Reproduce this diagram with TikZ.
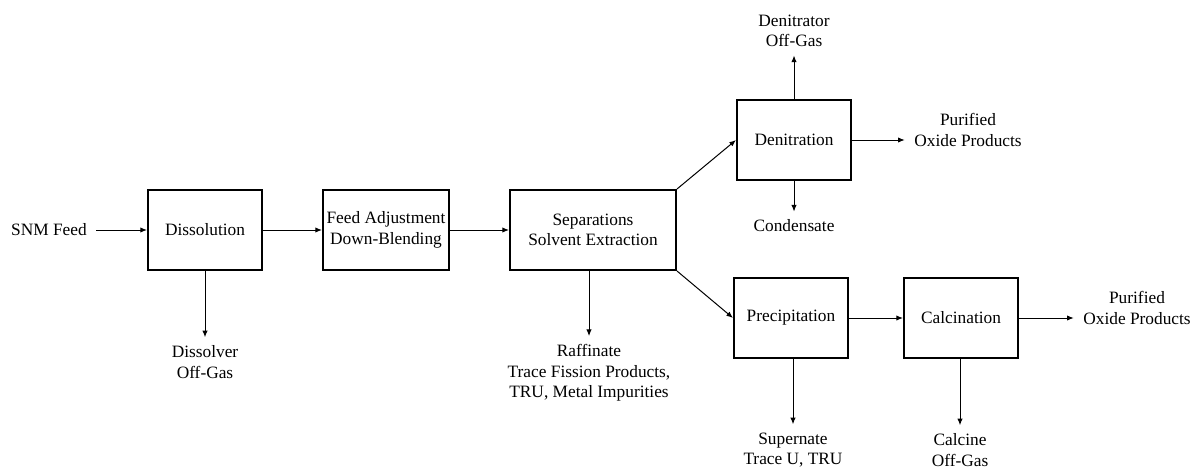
\documentclass[tikz,border=0pt]{standalone}
\usepackage{fontspec}
\setmainfont{Liberation Serif}
\newfontfamily\flowfont{Liberation Serif}
\usetikzlibrary{arrows.meta}

\begin{document}
\begin{tikzpicture}[x=0.75pt,y=-0.75pt,every node/.style={font=\flowfont\fontsize{13}{15.5}\selectfont}]
    \useasboundingbox (0,0) rectangle (1191,468);
    \newcounter{i}
    \tikzstyle{unit}=[draw, line width=1.5pt, minimum width=85.5pt, minimum height=60pt, align=center, inner sep=1pt]
    \tikzstyle{stream}=[align=center, inner xsep=7pt, inner ysep=6pt]

    \stepcounter{i}\node[stream]  (\arabic{i}) at (49,230) {SNM Feed};
    \stepcounter{i}\node[unit]  (\arabic{i}) at (205,230) {Dissolution};
    \stepcounter{i}\node[unit, minimum width=94.5pt]  (\arabic{i}) at (386,230) {Feed Adjustment\\Down-Blending};
    \stepcounter{i}\node[unit, minimum width=124.5pt]  (\arabic{i}) at (593,230) {Separations\\Solvent Extraction};
    \stepcounter{i}\node[unit]  (\arabic{i}) at (794,140) {Denitration};
    \stepcounter{i}\node[unit]  (\arabic{i}) at (791,318) {Precipitation};
    \stepcounter{i}\node[unit]  (\arabic{i}) at (961,318) {Calcination};

    \stepcounter{i}\node[stream]  (\arabic{i}) at (205,362) {Dissolver\\Off-Gas};
    \stepcounter{i}\node[stream]  (\arabic{i}) at (589,373) {Raffinate\\Trace Fission Products,\\TRU, Metal Impurities};
    \stepcounter{i}\node[stream]  (\arabic{i}) at (794,31) {Denitrator\\Off-Gas};
    \stepcounter{i}\node[stream]  (\arabic{i}) at (794,226) {Condensate};
    \stepcounter{i}\node[stream]  (\arabic{i}) at (968,130) {Purified\\Oxide Products};
    \stepcounter{i}\node[stream]  (\arabic{i}) at (793,450) {Supernate\\Trace U, TRU};
    \stepcounter{i}\node[stream]  (\arabic{i}) at (960,450) {Calcine\\Off-Gas};
    \stepcounter{i}\node[stream]  (\arabic{i}) at (1137,308) {Purified\\Oxide Products};

    \tikzstyle{flow} = [-{Latex[length=5pt,width=4pt]}, draw=black, line width=0.75pt]

          \draw [flow] (1) -- (2);
          \draw [flow] (2) -- (3);
          \draw [flow] (3) -- (4);
          \draw [flow] (4.north east) -- (5.west);
          \draw [flow] (4.south east) -- (6.west);
          \draw [flow] (6) -- (7);

          \draw [flow] (2) -- (8);
          \draw [flow] (4.south -| 9) -- (9);
          \draw [flow] (5) -- (10);
          \draw [flow] (5) -- (11);
          \draw [flow] (5.east) -- (5.east -| 12.west);
          \draw [flow] (6.south -| 13) -- (13);
          \draw [flow] (7.south -| 14) -- (14);
          \draw [flow] (7.east) -- (7.east -| 15.west);
\end{tikzpicture}
\end{document}
